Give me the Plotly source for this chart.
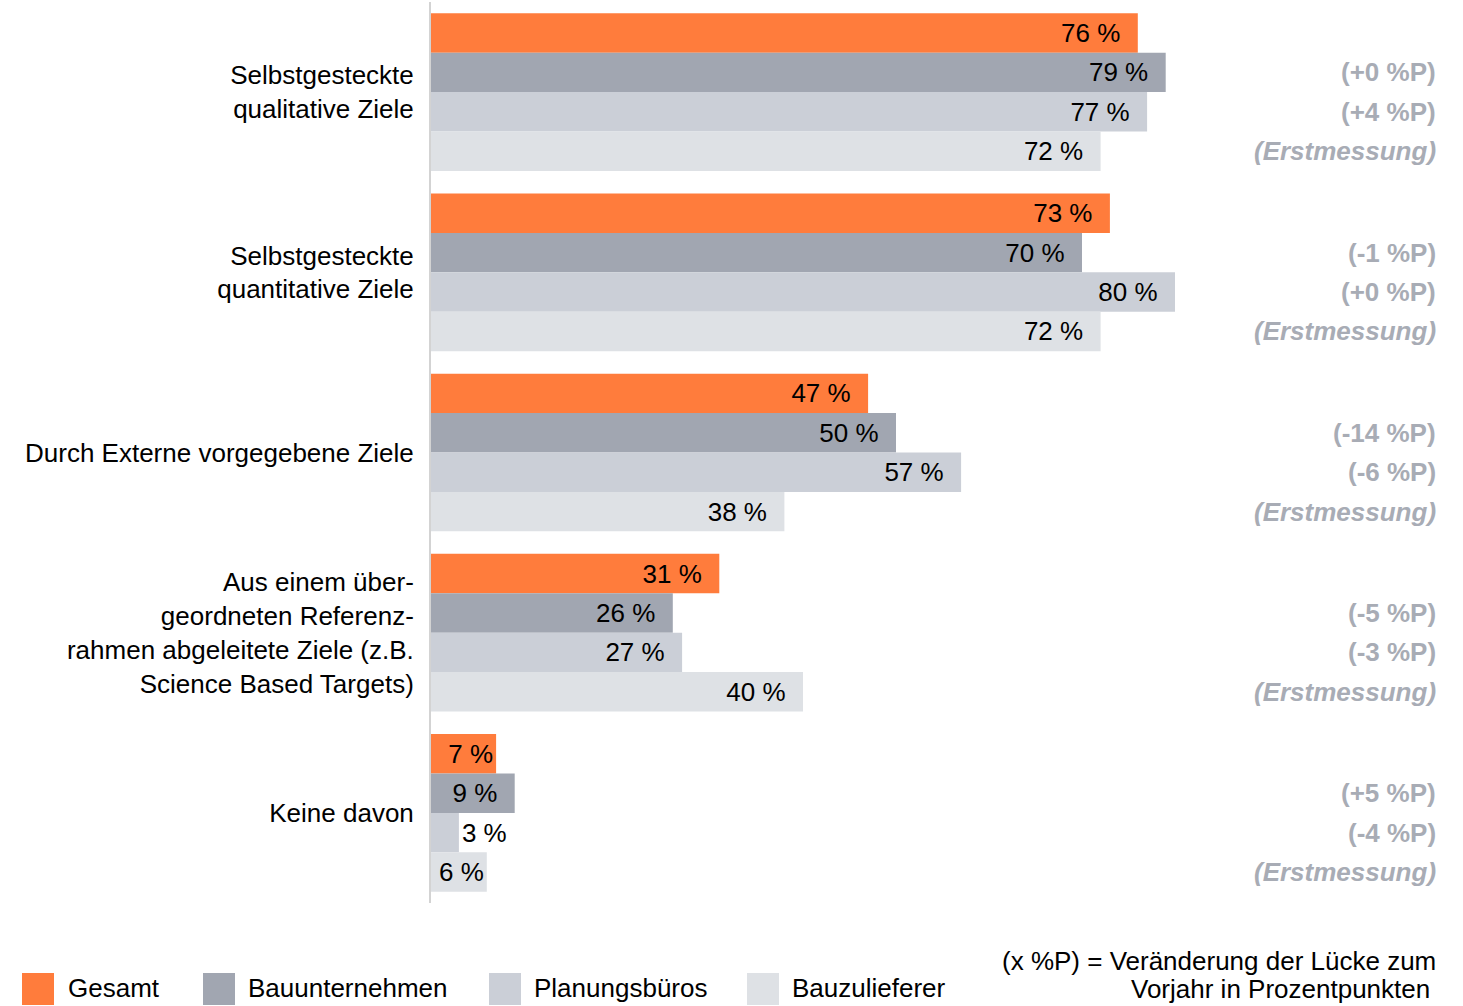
import plotly.graph_objects as go

categories = [
    "Selbstgesteckte<br>qualitative Ziele",
    "Selbstgesteckte<br>quantitative Ziele",
    "Durch Externe vorgegebene Ziele",
    "Aus einem über-<br>geordneten Referenz-<br>rahmen abgeleitete Ziele (z.B.<br>Science Based Targets)",
    "Keine davon",
]
series_names = ["Gesamt", "Bauunternehmen", "Planungsbüros", "Bauzulieferer"]
gesamt = [76, 73, 47, 31, 7]
bauunternehmen = [79, 70, 50, 26, 9]
planungsbueros = [77, 80, 57, 27, 3]
bauzulieferer = [72, 72, 38, 40, 6]
change_bau = ["(+0 %P)", "(-1 %P)", "(-14 %P)", "(-5 %P)", "(+5 %P)"]
change_plan = ["(+4 %P)", "(+0 %P)", "(-6 %P)", "(-3 %P)", "(-4 %P)"]
change_zul = ["(Erstmessung)"] * 5
note_lines = ["(x %P) = Veränderung der Lücke zum", "Vorjahr in Prozentpunkten"]

colors = ["#FF7C3C", "#A1A6B1", "#CBCFD7", "#DEE1E5"]
FONT = "Liberation Sans, Arial, sans-serif"
FS = 26

W, H = 1463, 1006
L, R, T, B = 431, 102, 2, 103
PW = W - L - R
PH = H - T - B


def px_x(px):
    return (px - L) / PW


def px_y(py):
    return (H - B - py) / PH


def lab(v):
    return f"{v} %" + ("\u00a0\u00a0" if v >= 9 else "")


fig = go.Figure()
all_series = [gesamt, bauunternehmen, planungsbueros, bauzulieferer]
for name, vals, col in zip(series_names, all_series, colors):
    fig.add_trace(go.Bar(
        y=list(range(len(categories))), x=vals, name=name, orientation="h",
        marker=dict(color=col, line=dict(width=0)),
        text=[lab(v) for v in vals], textposition="auto",
        insidetextanchor="end",
        textfont=dict(family=FONT, size=FS, color="black"),
        insidetextfont=dict(family=FONT, size=FS, color="black"),
        outsidetextfont=dict(family=FONT, size=FS, color="black"),
        cliponaxis=False, showlegend=False, hoverinfo="skip",
    ))

bargap = 0.125
bw = (1 - bargap) / 4
offsets = [-1.5 * bw, -0.5 * bw, 0.5 * bw, 1.5 * bw]

annotations = []
for i in range(len(categories)):
    for k, (txt, italic) in enumerate([(change_bau[i], False), (change_plan[i], False), (change_zul[i], True)]):
        t = f"<b><i>{txt}</i></b>" if italic else f"<b>{txt}</b>"
        annotations.append(dict(
            x=px_x(1438), xref="paper", xanchor="right",
            y=i + offsets[k + 1], yref="y", yanchor="middle",
            text=t, showarrow=False,
            font=dict(family=FONT, size=FS, color="#A8ACB5"),
        ))

# custom legend
leg_sq = [22, 203, 489, 747]
leg_tx = [66, 246, 532, 790]
shapes = []
for name, col, sx, tx in zip(series_names, colors, leg_sq, leg_tx):
    shapes.append(dict(type="rect", xref="paper", yref="paper",
                       x0=px_x(sx), x1=px_x(sx + 32), y0=px_y(1005), y1=px_y(973),
                       fillcolor=col, line=dict(width=0)))
    annotations.append(dict(x=px_x(tx), xref="paper", xanchor="left",
                            y=px_y(988), yref="paper", yanchor="middle",
                            text=name, showarrow=False,
                            font=dict(family=FONT, size=FS, color="black")))

annotations.append(dict(x=px_x(1438), xref="paper", xanchor="right",
                        y=px_y(961), yref="paper", yanchor="middle",
                        text=note_lines[0], showarrow=False,
                        font=dict(family=FONT, size=FS, color="black")))
annotations.append(dict(x=px_x(1432), xref="paper", xanchor="right",
                        y=px_y(989), yref="paper", yanchor="middle",
                        text=note_lines[1], showarrow=False,
                        font=dict(family=FONT, size=FS, color="black")))

fig.update_layout(
    width=W, height=H,
    margin=dict(l=L, r=R, t=T, b=B, pad=0),
    barmode="group", bargap=bargap, bargroupgap=0,
    plot_bgcolor="white", paper_bgcolor="white",
    font=dict(family=FONT, size=FS, color="black"),
    xaxis=dict(range=[0, 100], showgrid=False, zeroline=False,
               showticklabels=False, showline=False, fixedrange=True),
    yaxis=dict(range=[4.5, -0.5], tickmode="array",
               tickvals=list(range(len(categories))), ticktext=categories,
               showgrid=False, zeroline=False, ticks="",
               showline=True, linecolor="#D3D3D3", linewidth=2,
               ticklabelstandoff=10, fixedrange=True,
               tickfont=dict(family=FONT, size=FS, color="black")),
    annotations=annotations, shapes=shapes,
    uniformtext=dict(mode=False),
)

fig.write_html(
    "out.html",
    config={"displayModeBar": False},
    post_script="document.body.style.margin='0';document.body.style.padding='0';document.body.style.overflow='hidden';",
)
